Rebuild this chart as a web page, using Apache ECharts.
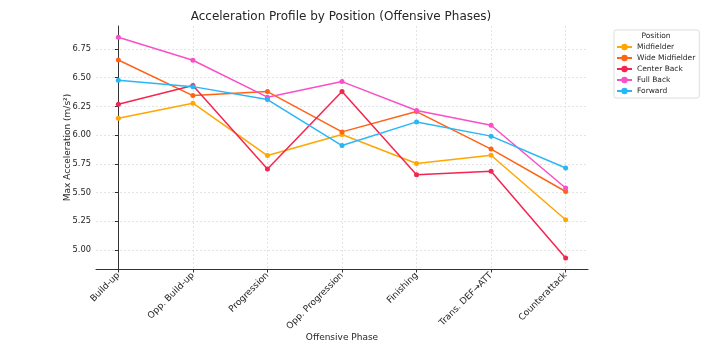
<!DOCTYPE html>
<html>
<head>
<meta charset="utf-8">
<script src="https://cdn.jsdelivr.net/npm/echarts@6/dist/echarts.min.js"></script>
<style>
html,body{margin:0;padding:0;background:#fff;}
#chart{width:709px;height:351px;}
</style>
</head>
<body>
<div id="chart"></div>
<script>
const phases = ['Build-up', 'Opp. Build-up', 'Progression', 'Opp. Progression', 'Finishing', 'Trans. DEF\u2192ATT', 'Counterattack'];
const positions = ['Midfielder', 'Wide Midfielder', 'Center Back', 'Full Back', 'Forward'];
const midfielder = [6.147, 6.278, 5.822, 6.005, 5.753, 5.825, 5.263];
const wideMidfielder = [6.654, 6.344, 6.379, 6.028, 6.205, 5.878, 5.509];
const centerBack = [6.269, 6.431, 5.704, 6.379, 5.654, 5.686, 4.930];
const fullBack = [6.852, 6.652, 6.330, 6.466, 6.214, 6.086, 5.539];
const forward = [6.477, 6.422, 6.309, 5.909, 6.115, 5.991, 5.713];
const yTicks = [5.00, 5.25, 5.50, 5.75, 6.00, 6.25, 6.50, 6.75];
const colors = ['#ffa600', '#ff6316', '#f5254f', '#f94fc8', '#29b6f6'];

const seriesValues = [midfielder, wideMidfielder, centerBack, fullBack, forward];
const xIdx = phases.map((p, i) => i);
const font = 'DejaVu Sans';

const chart = echarts.init(document.getElementById('chart'), null, {renderer: 'canvas'});
chart.setOption({
  animation: false,
  backgroundColor: '#fff',
  textStyle: {fontFamily: font},
  title: [
    {text: 'Acceleration Profile by Position (Offensive Phases)', left: 341, top: 11, textAlign: 'center', padding: 0,
     textStyle: {fontFamily: font, fontSize: 12, fontWeight: 'normal', color: '#262626'}},
    {text: 'Position', left: 656, top: 32, textAlign: 'center', padding: 0,
     textStyle: {fontFamily: font, fontSize: 7.5, fontWeight: 'normal', color: '#262626'}}
  ],
  legend: {
    data: positions,
    orient: 'vertical',
    left: 614, top: 30,
    padding: [13, 4, 3, 2],
    itemGap: 3,
    itemWidth: 15, itemHeight: 8,
    borderColor: '#dddddd', borderWidth: 1, borderRadius: 2,
    textStyle: {fontFamily: font, fontSize: 7.5, color: '#262626'}
  },
  grid: {left: 96, right: 121, top: 26, bottom: 82, containLabel: false, outerBoundsMode: 'none'},
  xAxis: {
    type: 'value', min: -0.3, max: 6.3,
    name: 'Offensive Phase', nameLocation: 'middle', nameGap: 64, nameMoveOverlap: false,
    nameTextStyle: {fontFamily: font, fontSize: 9, color: '#262626'},
    axisLine: {show: true, lineStyle: {color: '#333', width: 1}},
    axisTick: {show: true, customValues: xIdx, length: 3.5, lineStyle: {color: '#333'}},
    axisLabel: {customValues: xIdx, rotate: 45, fontFamily: font, fontSize: 9, color: '#262626', margin: 5,
      formatter: v => phases[Math.round(v)] || ''},
    splitLine: {show: true, lineStyle: {color: '#dcdcdc', width: 0.8, type: [2, 2]}}
  },
  yAxis: {
    type: 'value', min: 4.834, max: 6.95,
    name: 'Max Acceleration (m/s\u00b2)', nameLocation: 'middle', nameGap: 24, nameMoveOverlap: false,
    nameTextStyle: {fontFamily: font, fontSize: 9, color: '#262626'},
    axisLine: {show: true, lineStyle: {color: '#333', width: 1}},
    axisTick: {show: true, customValues: yTicks, length: 3.5, lineStyle: {color: '#333'}},
    axisLabel: {customValues: yTicks, fontFamily: font, fontSize: 8.3, color: '#262626', margin: 5,
      formatter: v => v.toFixed(2)},
    splitLine: {show: true, lineStyle: {color: '#dcdcdc', width: 0.8, type: [2, 2]}}
  },
  series: positions.map((name, k) => ({
    name: name,
    type: 'line',
    data: seriesValues[k].map((v, i) => [i, v]),
    symbol: 'circle', symbolSize: 5,
    itemStyle: {color: colors[k]},
    lineStyle: {color: colors[k], width: 1.5},
    z: 2 + k
  }))
});
</script>
</body>
</html>
